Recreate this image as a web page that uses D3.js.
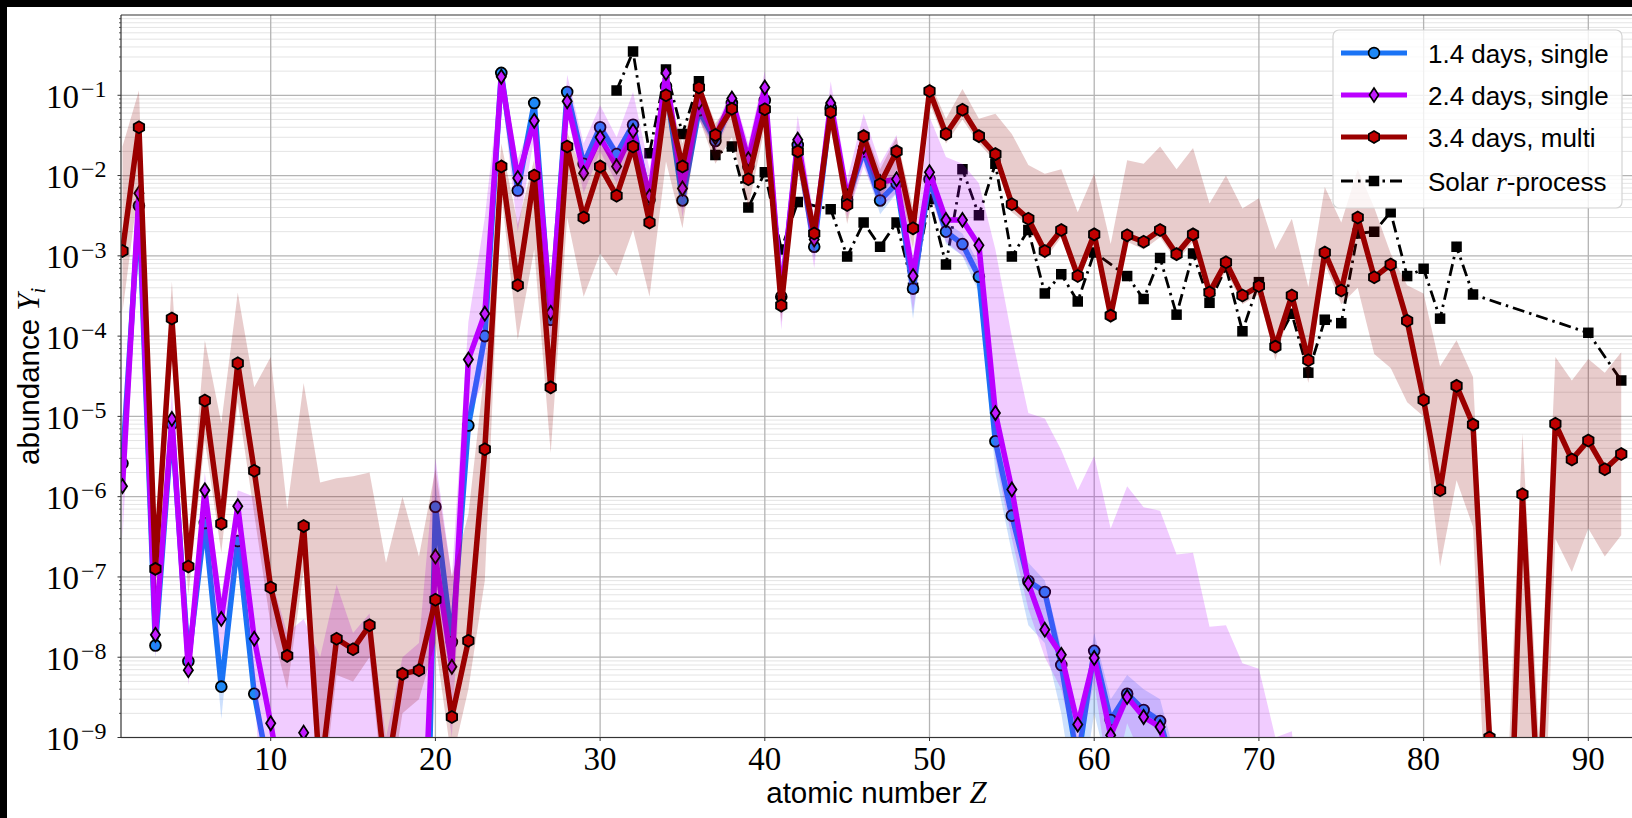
<!DOCTYPE html>
<html><head><meta charset="utf-8">
<script src="https://cdn.jsdelivr.net/npm/d3@7/dist/d3.min.js"></script>
<style>body{margin:0;background:#000;overflow:hidden}</style>
</head><body>
<svg id="chart" width="1632" height="818"></svg>
<script>
// ---------------- DATA ----------------
const Z = [1,2,3,4,5,6,7,8,9,10,11,12,13,14,15,16,17,18,19,20,21,22,23,24,25,26,27,28,29,30,
  31,32,33,34,35,36,37,38,39,40,41,42,43,44,45,46,47,48,49,50,51,52,53,54,55,56,57,58,59,60,
  61,62,63,64,65,66,67,68,69,70,71,72,73,74,75,76,77,78,79,80,81,82,83,84,85,86,87,88,89,90,91,92];

// 3.4 days, multi
const red = [1.15e-3,4.0e-2,1.26e-7,1.66e-4,1.35e-7,1.58e-5,4.6e-7,4.6e-5,2.1e-6,7.4e-8,
  1.04e-8,4.3e-7,3e-10,1.7e-8,1.26e-8,2.5e-8,3e-10,6.2e-9,6.9e-9,5.2e-8,
  1.8e-9,1.6e-8,3.9e-6,1.3e-2,4.3e-4,1.0e-2,2.3e-5,2.3e-2,3.0e-3,1.3e-2,
  5.6e-3,2.3e-2,2.6e-3,0.10,1.3e-2,0.125,3.2e-2,6.8e-2,9e-3,6.7e-2,
  2.4e-4,2.0e-2,1.9e-3,6.2e-2,4.3e-3,3.1e-2,7.8e-3,2.0e-2,2.2e-3,0.113,
  3.3e-2,6.6e-2,3.1e-2,1.85e-2,4.4e-3,2.9e-3,1.15e-3,2.1e-3,5.6e-4,1.85e-3,
  1.8e-4,1.8e-3,1.5e-3,2.1e-3,1.05e-3,1.85e-3,3.5e-4,8.3e-4,3.2e-4,4.2e-4,
  7.4e-5,3.2e-4,5.0e-5,1.1e-3,3.7e-4,3.0e-3,5.4e-4,7.8e-4,1.55e-4,1.6e-5,
  1.2e-6,2.4e-5,7.9e-6,1.0e-9,1e-12,1.07e-6,1e-10,8.1e-6,2.9e-6,5.0e-6,
  2.2e-6,3.4e-6];
const redHi = [2.3e-2,0.115,3e-7,4.8e-4,3e-7,8.9e-5,8.3e-6,3.5e-4,2.3e-5,5.5e-5,
  7e-7,2.6e-5,1.5e-6,1.7e-6,1.8e-6,2.0e-6,1.5e-7,1.0e-6,1.8e-7,2.2e-6,
  1.0e-7,6e-7,4e-5,2.5e-2,2.5e-3,1.6e-2,1.5e-4,3.5e-2,1e-2,2.5e-2,
  1.5e-2,3.5e-2,8e-3,0.13,2.5e-2,0.15,4.5e-2,8e-2,2e-2,8e-2,
  5e-4,3e-2,3e-3,8e-2,6e-3,4e-2,1.2e-2,3e-2,4e-3,0.15,
  5.1e-2,0.12,5.1e-2,5.9e-2,3.3e-2,1.35e-2,1.05e-2,1.2e-2,3.5e-3,1.06e-2,
  1.4e-3,1.55e-2,1.4e-2,2.3e-2,1.2e-2,2.2e-2,4.5e-3,1.0e-2,3.9e-3,5.2e-3,
  1.2e-3,2.9e-3,4.1e-4,7.2e-3,2.6e-3,1.2e-2,4e-3,1.07e-3,4.3e-4,3.4e-4,
  4.2e-5,8.9e-5,3.1e-5,2e-9,1e-10,6.2e-6,1e-9,5.5e-5,2.8e-5,5.2e-5,
  3.5e-5,6.3e-5];
const redLo = [2e-4,8e-3,6e-8,6e-5,6e-8,5e-6,2e-7,1.5e-5,6e-7,2.5e-8,
  4e-9,1.2e-7,1e-10,6e-9,5e-9,1e-8,1e-10,2e-9,3e-9,1.5e-8,
  5e-10,4e-9,9e-8,6e-3,9e-5,1.2e-3,3.5e-6,3e-3,3.1e-4,1.07e-3,
  5.6e-4,2.1e-3,3.1e-4,1.5e-2,2.2e-3,5.2e-2,1.4e-2,3e-2,4e-3,4e-2,
  1.5e-4,1.2e-2,1e-3,4e-2,2.5e-3,2e-2,5e-3,1.2e-2,1.2e-3,8e-2,
  2.5e-2,5e-2,2.5e-2,1.5e-2,3.5e-3,2.4e-3,9e-4,1.7e-3,4.5e-4,1.5e-3,
  1.4e-4,1.5e-3,1.2e-3,1.7e-3,8.5e-4,1.5e-3,2.8e-4,6.5e-4,2.5e-4,3.3e-4,
  5e-5,2.5e-4,2.6e-5,8e-4,2.5e-4,4e-4,6e-5,4e-5,1.5e-5,1.0e-5,
  1.35e-7,1.6e-6,4.2e-7,1e-11,1e-13,1e-10,1e-12,3e-7,1.15e-7,4e-7,
  1.8e-7,3.3e-7];

// 1.4 days, single
const blue = [2.6e-6,4.2e-3,1.4e-8,8e-6,8.9e-9,4.7e-7,4.3e-9,2.8e-7,3.5e-9,2.9e-10,
  1e-12,1e-12,1e-12,1e-12,1e-12,1e-12,1e-12,1e-12,1e-15,7.5e-7,
  1.55e-8,7.7e-6,1e-4,0.19,6.5e-3,8.0e-2,1.6e-4,0.11,1.4e-2,4.0e-2,
  1.85e-2,4.3e-2,5e-3,0.13,4.9e-3,6.5e-2,2.7e-2,8e-2,1.3e-2,8.7e-2,
  3.1e-4,2.4e-2,1.3e-3,7e-2,5e-3,2e-2,4.9e-3,8e-3,3.9e-4,9e-3,
  2e-3,1.4e-3,5.5e-4,4.9e-6,5.8e-7,8.9e-8,6.5e-8,8e-9,5e-10,1.2e-8,
  1.65e-9,3.5e-9,2.2e-9,1.6e-9,3e-10];
const blueHi = [4e-6,5.5e-3,1.8e-8,1e-5,1.1e-8,6e-7,6e-9,3.5e-7,4.5e-9,4e-10,
  1e-12,1e-12,1e-12,1e-12,1e-12,1e-12,1e-12,1e-12,1e-12,1.5e-6,
  2.5e-8,1.2e-5,1.5e-4,0.22,8e-3,9e-2,2e-4,0.13,1.7e-2,4.8e-2,
  2.2e-2,5e-2,6.5e-3,0.15,6e-3,8e-2,3.2e-2,9e-2,1.6e-2,0.1,
  4e-4,3e-2,1.7e-3,8.5e-2,6.5e-3,2.6e-2,6.5e-3,1e-2,5e-4,1.2e-2,
  2.6e-3,1.9e-3,8e-4,8e-6,9e-7,1.5e-7,9e-8,1.3e-8,1e-9,2e-8,
  3e-9,6e-9,4e-9,3e-9,5e-10];
const blueLo = [1.5e-6,3e-3,1e-8,6e-6,7e-9,3.5e-7,1.7e-9,2e-7,2.5e-9,2e-10,
  1e-12,1e-12,1e-12,1e-12,1e-12,1e-12,1e-12,1e-12,1e-12,3e-7,
  8e-9,5e-6,6e-5,0.16,5e-3,6.5e-2,1.2e-4,9e-2,1.1e-2,3.3e-2,
  1.5e-2,3.6e-2,3.8e-3,0.1,3.8e-3,5e-2,2.2e-2,6.5e-2,1e-2,7e-2,
  2.3e-4,2e-2,9e-4,5.8e-2,3.5e-3,1.5e-2,3.3e-3,6e-3,1.65e-4,7e-3,
  1.4e-3,1e-3,3.5e-4,2e-6,2e-7,2.5e-8,1.5e-8,2e-9,1e-10,2e-9,
  3e-10,1e-9,7e-10,5e-10,1e-10];

// 2.4 days, single
const magenta = [1.35e-6,6e-3,1.9e-8,9.3e-6,6.9e-9,1.2e-6,3.0e-8,7.6e-7,1.7e-8,1.5e-9,
  1e-10,1.15e-9,1e-11,1e-12,1e-12,1e-12,1e-12,1e-12,1.7e-12,1.8e-7,
  7.6e-9,5.1e-5,1.9e-4,0.17,9.3e-3,4.8e-2,1.95e-4,8.4e-2,1.07e-2,3.0e-2,
  1.3e-2,3.6e-2,5.5e-3,0.19,6.9e-3,8.2e-2,3.0e-2,9.1e-2,1.6e-2,0.125,
  3e-4,2.8e-2,1.6e-3,8e-2,5.5e-3,2.3e-2,8.3e-3,9e-3,5.6e-4,1.1e-2,
  2.8e-3,2.8e-3,1.35e-3,1.1e-5,1.23e-6,8.3e-8,2.2e-8,1.07e-8,1.45e-9,9.8e-9,
  1.07e-9,3.2e-9,1.8e-9,1.35e-9,2e-10];
const magentaHi = [1e-5,1e-2,4e-8,2e-5,1.5e-8,2e-6,6e-8,1.2e-6,1e-6,1e-7,
  2e-8,3e-8,1e-8,8e-8,2e-8,3.5e-8,1e-9,1e-8,1.5e-8,3e-6,
  1e-7,1.5e-4,3e-3,0.22,1.6e-2,6e-2,4e-4,0.18,2.5e-2,7.5e-2,
  3e-2,0.11,1.2e-2,0.25,1.2e-2,0.12,4e-2,0.12,2.5e-2,0.2,
  6e-4,5.6e-2,3e-3,0.15,9e-3,5.9e-2,1.4e-2,3.2e-2,1e-3,5.4e-2,
  1.7e-2,1.4e-2,8e-3,1.2e-3,9.8e-5,1.1e-5,9.4e-6,3.8e-6,1.2e-6,3.2e-6,
  4e-7,1.35e-6,7.4e-7,6.7e-7,1.9e-7,2e-7,2.4e-8,2.5e-8,8.4e-9,7.2e-9,
  1e-9,1.2e-9,1e-11];
const magentaLo = [3e-7,2e-3,1e-8,4e-6,4.5e-9,3e-7,1e-8,2.5e-7,5e-9,1e-12,
  1e-12,1e-12,1e-12,1e-12,1e-12,1e-12,1e-12,1e-12,1e-12,3e-8,
  1e-9,1e-5,3e-5,0.12,2e-3,3e-2,8e-5,6e-2,6e-3,2e-2,
  8e-3,2e-2,2.5e-3,0.12,3e-3,5e-2,2e-2,6e-2,8e-3,8e-2,
  1.2e-4,1.5e-2,7e-4,5e-2,3e-3,1.3e-2,4e-3,6e-3,2e-4,6e-3,
  1.5e-3,1e-3,5e-4,3e-6,3e-7,4e-8,1e-8,4e-9,5e-10,5e-9,
  2e-10,1.5e-9,5e-10,5e-10,1e-10,1e-10,1e-11,1e-11,1e-11,1e-11,
  1e-11,1e-11,1e-11];

// Solar r-process (missing elements are null)
const solar = [null,null,null,null,null,null,null,null,null,null,
  null,null,null,null,null,null,null,null,null,null,
  null,null,null,null,null,null,null,null,null,null,
  0.115,0.35,1.9e-2,0.21,3.3e-2,0.15,1.8e-2,2.3e-2,4.0e-3,1.1e-2,
  1.2e-3,4.7e-3,null,3.8e-3,9.8e-4,2.6e-3,1.3e-3,2.6e-3,4e-4,5.1e-3,
  7.8e-4,1.2e-2,3.2e-3,1.4e-2,9.8e-4,2.1e-3,3.4e-4,5.9e-4,2.7e-4,1.1e-3,
  null,5.6e-4,2.9e-4,9.4e-4,1.85e-4,1.07e-3,2.6e-4,7.2e-4,1.15e-4,4.7e-4,
  8e-5,1.9e-4,3.5e-5,1.6e-4,1.45e-4,1.9e-3,2.0e-3,3.5e-3,5.6e-4,6.9e-4,
  1.65e-4,1.3e-3,3.3e-4,null,null,null,null,null,null,1.1e-4,
  null,2.8e-5];

const xTicks = [10,20,30,40,50,60,70,80,90];
const yExps = [-9,-8,-7,-6,-5,-4,-3,-2,-1];
const seriesNames = ["1.4 days, single","2.4 days, single","3.4 days, multi","Solar r-process"];

// ---------------- DRAW ----------------
const W = 1632, H = 818;
const L = 121, T = 15, R = 1632, B = 737.5;
const svg = d3.select("#chart");
svg.append("rect").attr("width", W).attr("height", H).attr("fill", "#000");
svg.append("rect").attr("x", 7).attr("y", 7).attr("width", W - 7).attr("height", H - 7).attr("fill", "#fff");

const x = d3.scaleLinear().domain([0.91, 92.6]).range([L, L + (92.6 - 0.91) * 16.47]);
const y = d3.scaleLog().domain([1e-9, 1]).range([B, T]);

svg.append("defs").append("clipPath").attr("id", "clip")
  .append("rect").attr("x", L).attr("y", T).attr("width", R - L).attr("height", B - T);

// grid
const grid = svg.append("g");
const allY = y.ticks();
const isMajor = v => Math.abs(Math.log10(v) - Math.round(Math.log10(v))) < 1e-6;
grid.selectAll(".minor").data(allY.filter(v => !isMajor(v))).join("line")
  .attr("x1", L).attr("x2", R).attr("y1", d => y(d)).attr("y2", d => y(d))
  .attr("stroke", "#e4e4e4").attr("stroke-width", 1);
grid.selectAll(".major").data(yExps.map(e => Math.pow(10, e))).join("line")
  .attr("x1", L).attr("x2", R).attr("y1", d => y(d)).attr("y2", d => y(d))
  .attr("stroke", "#b4b4b4").attr("stroke-width", 1.3);
grid.selectAll(".xg").data(xTicks).join("line")
  .attr("x1", d => x(d)).attr("x2", d => x(d)).attr("y1", T).attr("y2", B)
  .attr("stroke", "#b4b4b4").attr("stroke-width", 1.3);

const plot = svg.append("g").attr("clip-path", "url(#clip)");

function rows(vals, lo, hi) {
  return vals.map((v, i) => ({ z: Z[i], v: v, lo: lo ? lo[i] : null, hi: hi ? hi[i] : null }));
}
const line = d3.line().x(d => x(d.z)).y(d => y(d.v)).defined(d => d.v != null);
const area = d3.area().x(d => x(d.z)).y0(d => y(d.lo)).y1(d => y(d.hi))
  .defined(d => d.lo != null && d.hi != null);

// marker shapes
const hexPath = (r) => { let p = ""; for (let k = 0; k < 6; k++) { const a = Math.PI / 2 + k * Math.PI / 3; p += (k ? "L" : "M") + (r * Math.cos(a)).toFixed(2) + "," + (-r * Math.sin(a)).toFixed(2); } return p + "Z"; };
const diamondPath = (w, h) => `M0,${-h}L${w},0L0,${h}L${-w},0Z`;
const circlePath = d3.symbol(d3.symbolCircle, Math.PI * 5.4 * 5.4)();
const squarePath = d3.symbol(d3.symbolSquare, 10.5 * 10.5)();

const styles = [
  { vals: blue, lo: blueLo, hi: blueHi, color: "#1a73f5", band: "#1a73f5", bandOp: 0.22, fill: "#1e88f5", marker: circlePath },
  { vals: magenta, lo: magentaLo, hi: magentaHi, color: "#bb00ff", band: "#bb00ff", bandOp: 0.2, fill: "#c21cff", marker: diamondPath(4.6, 7) },
  { vals: red, lo: redLo, hi: redHi, color: "#9a0000", band: "#8b0000", bandOp: 0.2, fill: "#c00000", marker: hexPath(6) }
];

// solar r-process (drawn first)
const solarRows = rows(solar).filter(d => d.v != null);
plot.append("path").datum(solarRows).attr("d", line)
  .attr("fill", "none").attr("stroke", "#000").attr("stroke-width", 2.8)
  .attr("stroke-dasharray", "12,5,2.5,5");
plot.append("g").selectAll("path").data(solarRows).join("path")
  .attr("d", squarePath).attr("transform", d => `translate(${x(d.z)},${y(d.v)})`)
  .attr("fill", "#000");

styles.forEach(s => {
  const bandRows = rows(s.hi, s.lo, s.hi);
  plot.append("path").datum(bandRows).attr("d", area)
    .attr("fill", s.band).attr("fill-opacity", s.bandOp).attr("stroke", "none");
  const r = rows(s.vals);
  plot.append("path").datum(r).attr("d", line)
    .attr("fill", "none").attr("stroke", s.color).attr("stroke-width", 5.5)
    .attr("stroke-linejoin", "round");
  plot.append("g").selectAll("path").data(r).join("path")
    .attr("d", s.marker).attr("transform", d => `translate(${x(d.z)},${y(d.v)})`)
    .attr("fill", s.fill).attr("stroke", "#000").attr("stroke-width", 1.8);
});

// spines
svg.append("line").attr("x1", L).attr("x2", L).attr("y1", T).attr("y2", B).attr("stroke", "#333").attr("stroke-width", 1.2);
svg.append("line").attr("x1", L).attr("x2", R).attr("y1", T).attr("y2", T).attr("stroke", "#333").attr("stroke-width", 1.2);
svg.append("line").attr("x1", L).attr("x2", R).attr("y1", B).attr("y2", B).attr("stroke", "#333").attr("stroke-width", 1.2);

// ticks
const ax = svg.append("g");
ax.selectAll(".ymin").data(allY.filter(v => !isMajor(v))).join("line")
  .attr("x1", L - 2).attr("x2", L).attr("y1", d => y(d)).attr("y2", d => y(d)).attr("stroke", "#333").attr("stroke-width", 0.8);
ax.selectAll(".ymaj").data(yExps.map(e => Math.pow(10, e))).join("line")
  .attr("x1", L - 3.5).attr("x2", L).attr("y1", d => y(d)).attr("y2", d => y(d)).attr("stroke", "#333").attr("stroke-width", 1);
ax.selectAll(".xmaj").data(xTicks).join("line")
  .attr("x1", d => x(d)).attr("x2", d => x(d)).attr("y1", B).attr("y2", B + 3.5).attr("stroke", "#333").attr("stroke-width", 1);

const serif = "'Liberation Serif','DejaVu Serif',serif";
const sans = "'Liberation Sans','DejaVu Sans',sans-serif";

const yl = ax.selectAll(".ylab").data(yExps).join("text")
  .attr("x", 46).attr("y", d => y(Math.pow(10, d)) + 12.5)
  .attr("font-family", serif).attr("font-size", 33).attr("fill", "#000");
yl.append("tspan").text("10");
yl.append("tspan").attr("dx", 2).attr("dy", -10.7).attr("font-size", 24).text(d => "\u2212" + Math.abs(d));

ax.selectAll(".xlab").data(xTicks).join("text")
  .attr("x", d => x(d)).attr("y", 770).attr("text-anchor", "middle")
  .attr("font-family", serif).attr("font-size", 33).attr("fill", "#000").text(d => d);

// axis titles
const xt = svg.append("text").attr("x", (L + R) / 2).attr("y", 803).attr("text-anchor", "middle")
  .attr("font-family", sans).attr("font-size", 29.5).attr("fill", "#000");
xt.append("tspan").text("atomic number ");
xt.append("tspan").attr("font-family", serif).attr("font-style", "italic").attr("font-size", 31).text("Z");

const ytl = svg.append("text").attr("transform", `translate(39,${(T + B) / 2}) rotate(-90)`)
  .attr("text-anchor", "middle").attr("font-family", sans).attr("font-size", 29.5).attr("fill", "#000");
ytl.append("tspan").text("abundance ");
ytl.append("tspan").attr("font-family", serif).attr("font-style", "italic").attr("font-size", 31).text("Y");
ytl.append("tspan").attr("font-family", serif).attr("font-style", "italic").attr("font-size", 21).attr("dy", 6).text("i");

// legend
const lg = svg.append("g");
lg.append("rect").attr("x", 1333).attr("y", 30).attr("width", 289).attr("height", 178).attr("rx", 6)
  .attr("fill", "#fff").attr("fill-opacity", 0.8).attr("stroke", "#d4d4d4").attr("stroke-width", 1.2);
const rowY = [53, 95, 137, 181];
const legendItems = [
  { color: styles[0].color, fill: styles[0].fill, marker: styles[0].marker, w: 5, dash: null },
  { color: styles[1].color, fill: styles[1].fill, marker: styles[1].marker, w: 5, dash: null },
  { color: styles[2].color, fill: styles[2].fill, marker: styles[2].marker, w: 5, dash: null },
  { color: "#000", fill: "#000", marker: squarePath, w: 2.8, dash: "12,5,2.5,5" }
];
legendItems.forEach((it, i) => {
  const g = lg.append("g").attr("transform", `translate(0,${rowY[i]})`);
  const ln = g.append("line").attr("x1", 1341).attr("x2", 1407).attr("y1", 0).attr("y2", 0)
    .attr("stroke", it.color).attr("stroke-width", it.w);
  if (it.dash) ln.attr("stroke-dasharray", it.dash);
  g.append("path").attr("d", it.marker).attr("transform", "translate(1374,0)")
    .attr("fill", it.fill).attr("stroke", "#000").attr("stroke-width", i === 3 ? 0 : 1.6);
  const t = g.append("text").attr("x", 1428).attr("y", 9.5).attr("font-family", sans)
    .attr("font-size", 26).attr("fill", "#000");
  if (i === 3) {
    t.append("tspan").text("Solar ");
    t.append("tspan").attr("font-family", serif).attr("font-style", "italic").attr("font-size", 28).text("r");
    t.append("tspan").text("-process");
  } else {
    t.text(seriesNames[i]);
  }
});
</script>
</body></html>
